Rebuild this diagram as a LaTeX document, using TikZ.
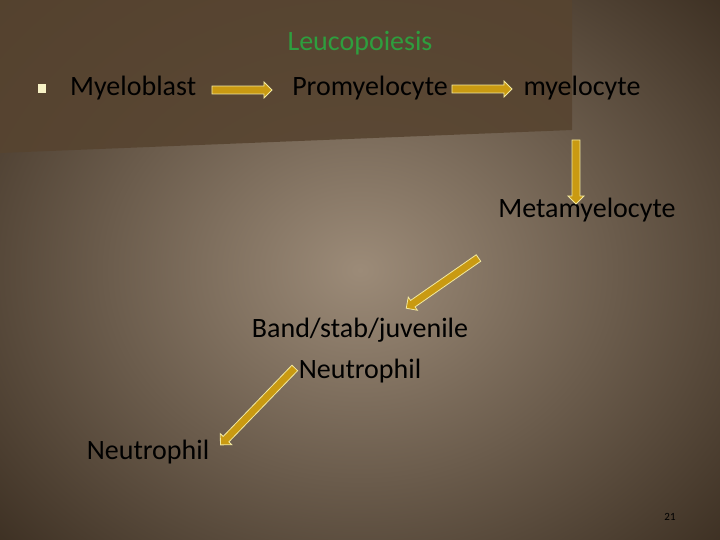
\documentclass[tikz,border=0pt]{standalone}
\usepackage{fontspec}
\setmainfont{Carlito}
\usetikzlibrary{shapes.arrows,shadings}
\definecolor{bgin}{HTML}{9C8B78}
\definecolor{bgout}{HTML}{3A2D20}
\definecolor{banner}{HTML}{574430}
\definecolor{gold}{HTML}{C99A12}
\definecolor{rim}{HTML}{F2E9A0}
\definecolor{lgreen}{HTML}{2E9E3E}
\begin{document}
\begin{tikzpicture}[x=1pt,y=-1pt,
  lbl/.style={text=black,font=\fontsize{28}{32}\selectfont,inner sep=0pt},
  barr/.style={single arrow,draw=rim,fill=gold,line width=0.8pt,minimum width=16pt,single arrow head extend=4pt,inner xsep=0pt,inner ysep=3.5pt,single arrow head indent=0pt}]
\useasboundingbox (0,0) rectangle (720,540);
\shade[inner color=bgin,outer color=bgout] (-150,-150) rectangle (870,690);
\fill[banner,opacity=0.9] (0,0) -- (572,0) -- (572,130) -- (0,153) -- cycle;
\node[text=lgreen,font=\fontsize{28}{32}\selectfont,inner sep=0pt] (title) at (360,43) {Leucopoiesis};
\fill[rim!60!white] (38,84) rectangle (46,93);
\node[lbl,anchor=west] (myb) at (70,88) {Myeloblast};
\node[lbl] (pro) at (370,88) {Promyelocyte};
\node[lbl] (mye) at (582,88) {myelocyte};
\node[lbl] (meta) at (587,210) {Metamyelocyte};
\node[lbl,align=center,font=\fontsize{28}{41}\selectfont] (band) at (360,351) {Band/stab/juvenile\\Neutrophil};
\node[lbl] (neu) at (148,452) {Neutrophil};
\node[text=black,font=\fontsize{11}{13}\selectfont] (pg) at (670,517) {21};
\node[barr,minimum height=60pt] (a1) at (240,90) {};
\node[barr,minimum height=60pt] (a2) at (480,89) {};
\node[barr,minimum height=64pt,rotate=270] (a3) at (576,170) {};
\node[barr,minimum height=88pt,rotate=214.8] (a4) at (444,282) {};
\node[barr,minimum height=107pt,rotate=226] (a5) at (259,405) {};
\end{tikzpicture}
\end{document}
